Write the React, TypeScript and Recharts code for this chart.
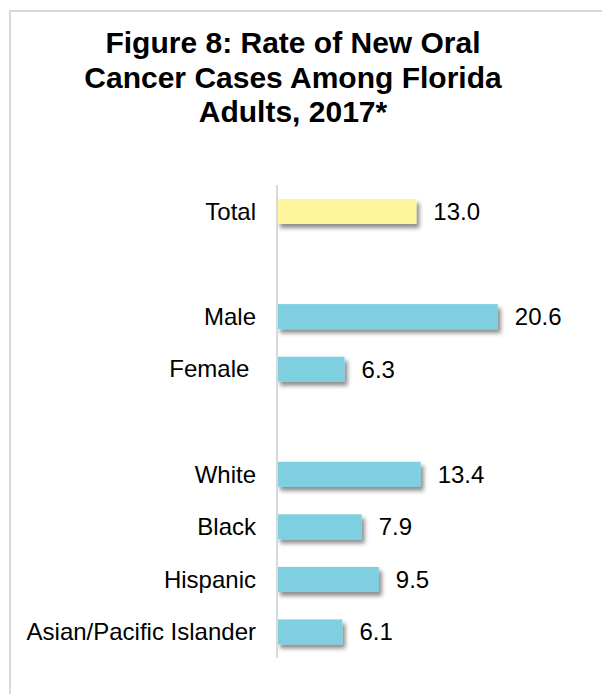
import { Bar, BarChart, Cell, LabelList, XAxis, YAxis } from "recharts";

const categories = ["Total", "", "Male", "Female\u00a0", " ", "White", "Black", "Hispanic", "Asian/Pacific Islander"];
const rates: (number | null)[] = [13.0, null, 20.6, 6.3, null, 13.4, 7.9, 9.5, 6.1];
const barColors = ["#fff59d", "#7ecfe0", "#7ecfe0", "#7ecfe0", "#7ecfe0", "#7ecfe0", "#7ecfe0", "#7ecfe0", "#7ecfe0"];

const rows = categories.map((name, i) => ({ name, rate: rates[i], color: barColors[i] }));

const font = "'Liberation Sans', Arial, sans-serif";

const ShadowBar = (props: any) => {
  const { x, y, width, height, fill } = props;
  if (!width || width <= 0) return null;
  return <rect x={x} y={y} width={width} height={height} fill={fill} filter="url(#barShadow)" />;
};

export default function App() {
  return (
    <div style={{ position: "absolute", left: 0, top: 0, width: 602, height: 694, background: "#fff", fontFamily: font }}>
      <div
        style={{
          position: "absolute",
          left: 9,
          top: 10,
          width: 602,
          height: 694,
          borderLeft: "2px solid #d9d9d9",
          borderTop: "2px solid #d9d9d9",
        }}
      />
      <div
        style={{
          position: "absolute",
          left: 0,
          top: 26,
          width: 586,
          textAlign: "center",
          fontWeight: "bold",
          fontSize: 30,
          lineHeight: "34.5px",
          color: "#000",
        }}
      >
        Figure 8: Rate of New Oral
        <br />
        Cancer Cases Among Florida
        <br />
        Adults, 2017*
      </div>
      <div style={{ position: "absolute", left: 0, top: 0 }}>
        <BarChart
          width={602}
          height={694}
          data={rows}
          layout="vertical"
          margin={{ top: 185, right: 57, bottom: 36, left: 0 }}
          barSize={25}
        >
          <defs>
            <filter id="barShadow" x="-10%" y="-30%" width="130%" height="180%">
              <feDropShadow dx={3} dy={4} stdDeviation={2} floodColor="#000" floodOpacity={0.45} />
            </filter>
          </defs>
          <XAxis type="number" domain={[0, 25]} hide />
          <YAxis
            type="category"
            dataKey="name"
            width={277}
            tickLine={false}
            tickSize={0}
            tickMargin={21}
            axisLine={{ stroke: "#d9d9d9", strokeWidth: 2 }}
            tick={{ fill: "#000", fontSize: 24, fontFamily: font }}
            interval={0}
          />
          <Bar dataKey="rate" isAnimationActive={false} shape={ShadowBar}>
            {rows.map((r, i) => (
              <Cell key={i} fill={r.color} />
            ))}
            <LabelList
              dataKey="rate"
              position="right"
              offset={17}
              fill="#000"
              fontSize={24}
              fontFamily={font}
              formatter={(v: any) => (v == null ? "" : Number(v).toFixed(1))}
            />
          </Bar>
        </BarChart>
      </div>
    </div>
  );
}
